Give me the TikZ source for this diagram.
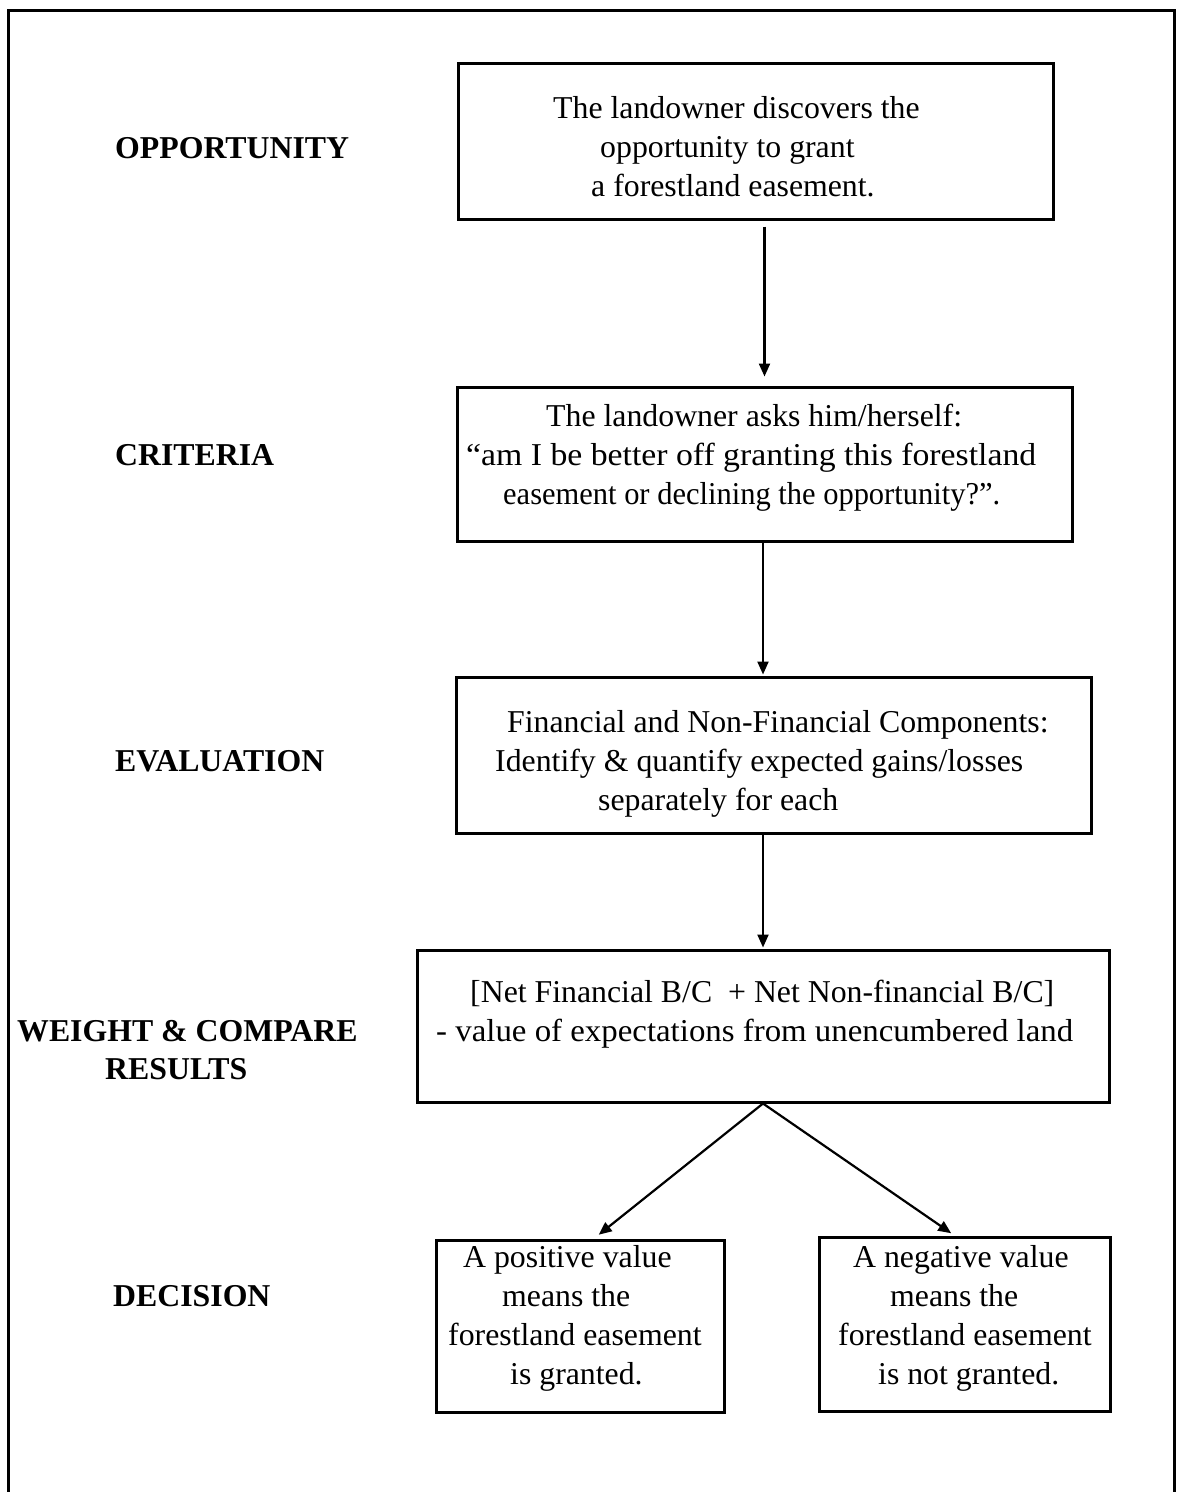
\documentclass[tikz,border=0pt]{standalone}
\usepackage{fontspec}
\usepackage{graphicx}
\setmainfont{Liberation Serif}
\usetikzlibrary{arrows.meta}
\tikzset{
  box/.style={draw, line width=3pt, rectangle, inner sep=0pt},
  txt/.style={anchor=west, align=left, inner sep=0pt, font=\fontsize{31.8}{39}\selectfont},
  lbl/.style={anchor=west, align=left, inner sep=0pt, font=\fontsize{31.8}{38}\selectfont\bfseries},
  arr/.style={line width=2.2pt, -{Triangle[length=13pt,width=11pt]}}
}
\begin{document}
\begin{tikzpicture}[x=1pt,y=-1pt]
\useasboundingbox (0,0) rectangle (1177,1492);
% outer frame (open at the bottom)
\draw[line width=3pt] (8.5,1500) -- (8.5,10) -- (1174.5,10) -- (1174.5,1500);

% boxes
\node[box, minimum width=595pt, minimum height=156pt] (b1) at (755.5,141) {};
\node[box, minimum width=615pt, minimum height=154pt] (b2) at (764.5,464) {};
\node[box, minimum width=635pt, minimum height=156pt] (b3) at (773.5,755) {};
\node[box, minimum width=692pt, minimum height=152pt] (b4) at (763,1026) {};
\node[box, minimum width=288pt, minimum height=172pt] (b5) at (580,1326) {};
\node[box, minimum width=291pt, minimum height=174pt] (b6) at (964.5,1324) {};

% box texts
\node[txt] (t1) at (553,147) {The landowner discovers the\\\hspace*{47pt}opportunity to grant\\\hspace*{38pt}a forestland easement.};
\node[txt] (t2) at (466,458) {\hspace*{80pt}The landowner asks him/herself:\\\resizebox{570pt}{\height}{``am I be better off granting this forestland}\\\hspace*{37pt}\resizebox{497pt}{\height}{easement or declining the opportunity?''.}};
\node[txt] (t3) at (495,764) {\hspace*{12pt}Financial and Non-Financial Components:\\Identify \& quantify expected gains/losses\\\hspace*{103pt}separately for each};
\node[txt] (t4) at (436,1014) {\hspace*{34pt}[Net Financial B/C \ + Net Non-financial B/C]\\\resizebox{637pt}{\height}{- value of expectations from unencumbered land}};
\node[txt] (t5) at (448,1318) {\hspace*{15pt}A positive value\\\hspace*{54pt}means the\\forestland easement\\\hspace*{62pt}is granted.};
\node[txt] (t6) at (838,1318) {\hspace*{15pt}A negative value\\\hspace*{52pt}means the\\forestland easement\\\hspace*{40pt}is not granted.};

% stage labels
\node[lbl] (l1) at (115,148) {OPPORTUNITY};
\node[lbl] (l2) at (115,455) {CRITERIA};
\node[lbl] (l3) at (115,761) {EVALUATION};
\node[lbl] (l4) at (17,1050) {WEIGHT \& COMPARE\\\hspace*{88pt}RESULTS};
\node[lbl] (l5) at (113,1296) {DECISION};

% connectors
\draw[arr, shorten <=6pt, shorten >=9pt] (b1.south -| b2.north) -- (b2.north);
\draw[arr, shorten >=1pt] ([xshift=-1.5pt]b2.south) -- ([xshift=-1.5pt]b2.south |- b3.north);
\draw[arr, shorten >=1pt] (b3.south -| b4.north) -- (b4.north);
\draw[arr, shorten >=6pt] (b4.south) -- ([xshift=14pt]b5.north);
\draw[arr, shorten >=4pt] (b4.south) -- ([xshift=-10pt]b6.north);
\end{tikzpicture}
\end{document}
